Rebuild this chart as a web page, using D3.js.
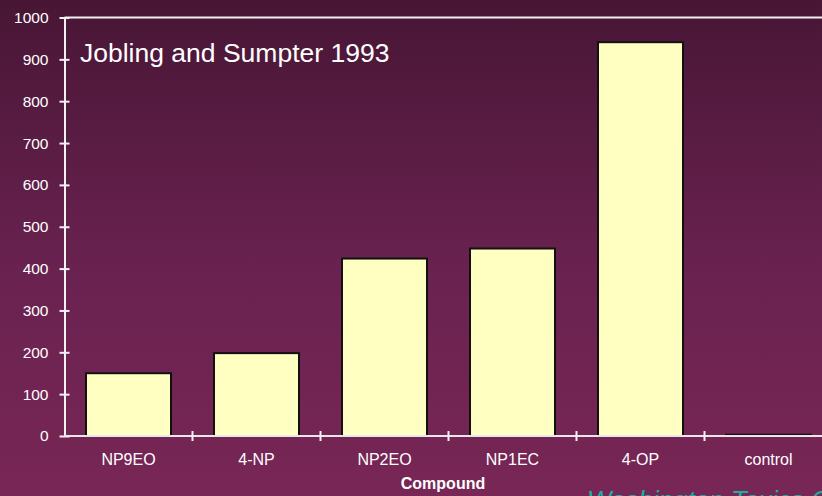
<!DOCTYPE html>
<html>
<head>
<meta charset="utf-8">
<script src="https://cdn.jsdelivr.net/npm/d3@7"></script>
<style>
html,body{margin:0;padding:0;background:#5a1c42;}
svg{display:block;}
text{font-family:"Liberation Sans",Arial,sans-serif;}
</style>
</head>
<body>
<svg id="chart" width="822" height="496"></svg>
<script>
const categories = ["NP9EO","4-NP","NP2EO","NP1EC","4-OP","control"];
const values = [150, 198, 424, 448, 941, 3];
const yTicks = [0,100,200,300,400,500,600,700,800,900,1000];
const titleText = "Jobling and Sumpter 1993";
const xAxisLabel = "Compound";
const footerText = "Washington Toxics Coalition";

const W = 822, H = 496;
const svg = d3.select("#chart");

const defs = svg.append("defs");
const grad = defs.append("linearGradient").attr("id","bg").attr("x1",0).attr("y1",0).attr("x2",0).attr("y2",1);
grad.append("stop").attr("offset","0%").attr("stop-color","#481635");
grad.append("stop").attr("offset","55%").attr("stop-color","#6a2250");
grad.append("stop").attr("offset","100%").attr("stop-color","#782655");
svg.append("rect").attr("width",W).attr("height",H).attr("fill","url(#bg)");

const x0 = 64.5, yBase = 436, yTop = 17.5;
const x = d3.scaleBand().domain(categories).range([x0, x0 + 128*6]).paddingInner(0.336).paddingOuter(0.168);
const y = d3.scaleLinear().domain([0,1000]).range([yBase, yTop]);

// top border line
svg.append("line").attr("x1",x0).attr("x2",W).attr("y1",yTop).attr("y2",yTop)
  .attr("stroke","#f0f0f0").attr("stroke-width",2);

// bars
svg.append("g").selectAll("rect").data(categories).join("rect")
  .attr("x", d => x(d))
  .attr("y", (d,i) => y(values[i]))
  .attr("width", x.bandwidth())
  .attr("height", (d,i) => yBase - y(values[i]))
  .attr("fill","#ffffc2")
  .attr("stroke","#111")
  .attr("stroke-width",2);

// y axis
const yAxis = d3.axisLeft(y).tickValues(yTicks).tickSize(0).tickPadding(16).tickFormat(d3.format("d"));
const gy = svg.append("g").attr("transform",`translate(${x0},0)`).call(yAxis);
gy.select(".domain").attr("stroke","#f2f2f2").attr("stroke-width",2);
gy.selectAll("text").attr("fill","#ffffff").attr("font-size",15.5).attr("font-family","Liberation Sans, Arial, sans-serif");
gy.selectAll(".tick").append("line").attr("x1",-5).attr("x2",5).attr("stroke","#f2f2f2").attr("stroke-width",2);

// x axis
const gx = svg.append("g").attr("transform",`translate(0,${yBase})`);
gx.append("line").attr("x1",x0).attr("x2",W).attr("stroke","#e8e8e8").attr("stroke-width",2);
const boundaries = categories.slice(1).map(c => x(c) - x.step()*x.paddingInner()/2);
gx.selectAll("line.tk").data(boundaries).join("line").attr("class","tk")
  .attr("x1",d=>d).attr("x2",d=>d).attr("y1",-5).attr("y2",5)
  .attr("stroke","#f2f2f2").attr("stroke-width",2);
gx.selectAll("text").data(categories).join("text")
  .attr("x", d => x(d) + x.bandwidth()/2)
  .attr("y", 29)
  .attr("text-anchor","middle")
  .attr("fill","#ffffff")
  .attr("font-size",16)
  .text(d => d);

// x axis title
svg.append("text").attr("x", 443).attr("y", 489).attr("text-anchor","middle")
  .attr("fill","#ffffff").attr("font-size",16).attr("font-weight","bold").text(xAxisLabel);

// title
svg.append("text").attr("x", 80).attr("y", 62).attr("fill","#ffffff").attr("font-size",26.5).text(titleText);

// footer
svg.append("text").attr("x", 587).attr("y", 509).attr("fill","#18b0a0")
  .attr("font-size",26).attr("font-style","italic").text(footerText);
</script>
</body>
</html>
